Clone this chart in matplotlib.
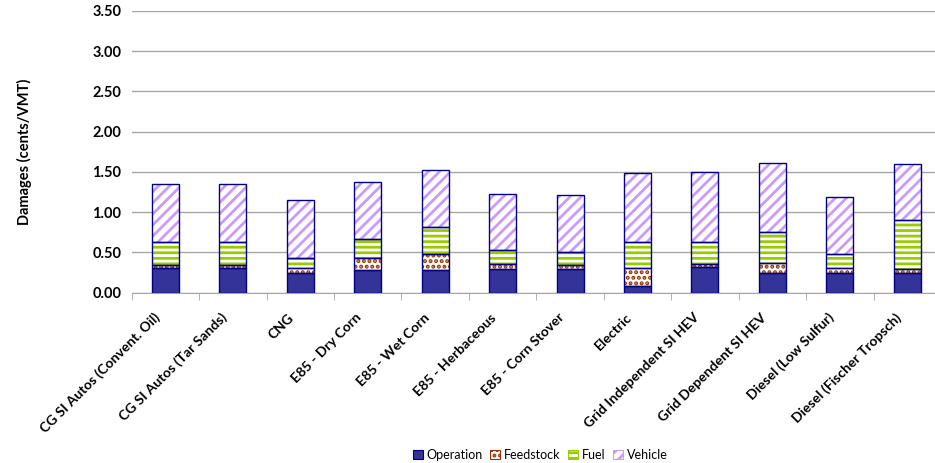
import matplotlib
matplotlib.use("Agg")
import matplotlib.pyplot as plt
import matplotlib.transforms as mtransforms
import numpy as np

# values (cents per VMT)
categories = ["CG SI Autos (Convent. Oil)", "CG SI Autos (Tar Sands)", "CNG",
              "E85 - Dry Corn", "E85 - Wet Corn", "E85 - Herbaceous",
              "E85 - Corn Stover", "Electric", "Grid Independent SI HEV",
              "Grid Dependent SI HEV", "Diesel (Low Sulfur)", "Diesel (Fischer Tropsch)"]
operation = [0.31, 0.31, 0.24, 0.28, 0.28, 0.30, 0.29, 0.08, 0.32, 0.25, 0.24, 0.24]
feedstock = [0.04, 0.04, 0.07, 0.145, 0.205, 0.055, 0.06, 0.23, 0.04, 0.12, 0.07, 0.06]
fuel = [0.285, 0.285, 0.125, 0.24, 0.33, 0.17, 0.16, 0.325, 0.275, 0.38, 0.165, 0.60]
vehicle = [0.71, 0.71, 0.72, 0.71, 0.715, 0.70, 0.70, 0.85, 0.865, 0.86, 0.71, 0.70]

series = [("Operation", operation, "#333399", None, "#333399"),
          ("Feedstock", feedstock, "white", "...", "#993300"),
          ("Fuel", fuel, "white", "---", "#99CC00"),
          ("Vehicle", vehicle, "white", "///", "#CC99FF")]

plt.rcParams['font.family'] = ['Lato', 'DejaVu Sans']
plt.rcParams['hatch.linewidth'] = 2.0
edge = "#000080"

fig = plt.figure(figsize=(9.35, 4.63), dpi=100)
ax = fig.add_axes([131.7 / 935, 1 - 292.7 / 463, (941 - 131.7) / 935, (292.7 - 11) / 463])

x = np.arange(len(categories))
w = 0.40
bottom = np.zeros(len(categories))
handles = []
for name, vals, fc, hatch, hc in series:
    vals = np.array(vals)
    if hatch:
        ax.bar(x, vals, w, bottom=bottom, color=fc, edgecolor=hc, hatch=hatch,
               linewidth=0, zorder=3)
    ax.bar(x, vals, w, bottom=bottom, facecolor="none" if hatch else fc,
           edgecolor=edge, linewidth=1.0, zorder=4)
    h = plt.Rectangle((0, 0), 1, 1, facecolor=fc, edgecolor=hc if hatch else edge,
                      hatch=hatch, linewidth=0.8)
    handles.append(h)
    bottom += vals

ax.set_ylim(0, 3.5)
ax.set_xlim(-0.5, len(categories) - 0.5)
ax.set_yticks(np.arange(0, 3.51, 0.5))
ax.set_yticklabels([f"{v:.2f}" for v in np.arange(0, 3.51, 0.5)],
                   fontsize=10.5, fontweight="bold")
ax.yaxis.grid(True, color="#A6A6A6", linewidth=1.0, zorder=0)
ax.set_axisbelow(True)
ax.tick_params(axis="y", length=0, pad=7.5)

ax.set_xticks(x)
ax.set_xticklabels(categories, rotation=45, ha="right", va="center",
                   rotation_mode="anchor", fontsize=10, fontweight="bold")
ax.set_xticks(np.arange(-0.5, len(categories), 1), minor=True)
ax.tick_params(axis="x", which="major", length=0, pad=16.5)
ax.tick_params(axis="x", which="minor", length=5, color="#A6A6A6", direction="out")
shift = mtransforms.ScaledTranslation(-8 / 100, 0, fig.dpi_scale_trans)
for lab in ax.get_xticklabels():
    lab.set_transform(lab.get_transform() + shift)

for s in ["top", "right", "left"]:
    ax.spines[s].set_visible(False)
ax.spines["bottom"].set_color("#A6A6A6")

ax.set_ylabel("Damages (cents/VMT)", fontsize=10.5, fontweight="bold")
ax.yaxis.set_label_coords((32 - 131.7) / 809.3, 0.5)

fig.legend(handles, [s[0] for s in series], loc="center", ncol=4,
           bbox_to_anchor=(540 / 935, 1 - 455 / 463), frameon=False, fontsize=9,
           handlelength=0.8, handleheight=0.8, handletextpad=0.3, columnspacing=0.6)

fig.savefig("out.png", dpi=100)
